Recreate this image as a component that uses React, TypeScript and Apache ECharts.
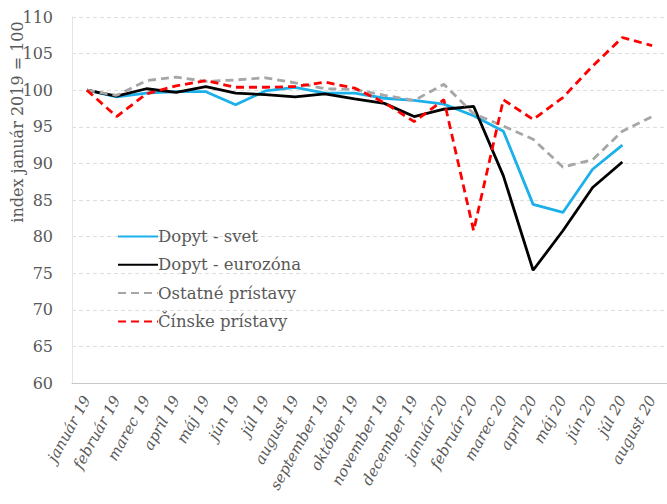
import React, { useEffect, useRef } from "react";
import * as echarts from "echarts";

const categories = [
  "január 19", "február 19", "marec 19", "apríl 19", "máj 19", "jún 19", "júl 19",
  "august 19", "september 19", "október 19", "november 19", "december 19",
  "január 20", "február 20", "marec 20", "apríl 20", "máj 20", "jún 20", "júl 20", "august 20",
];

const dopytSvet = [100, 99.1, 99.6, 99.8, 99.8, 98.0, 99.9, 100.4, 99.6, 99.6, 98.9, 98.6, 98.1, 96.5, 94.4, 84.4, 83.3, 89.2, 92.5, null];
const dopytEuro = [100, 99.2, 100.2, 99.7, 100.5, 99.6, 99.4, 99.1, 99.5, 98.8, 98.2, 96.4, 97.4, 97.8, 88.3, 75.4, 80.8, 86.7, 90.2, null];
const ostatne = [100, 99.3, 101.3, 101.8, 101.2, 101.4, 101.7, 101.0, 100.2, 100.1, 99.3, 98.6, 100.8, 96.8, 95.1, 93.3, 89.5, 90.5, 94.4, 96.4];
const cinske = [100, 96.4, 99.5, 100.6, 101.3, 100.4, 100.4, 100.5, 101.1, 100.3, 98.3, 95.7, 98.7, 80.8, 98.7, 96.0, 99.0, 103.3, 107.2, 106.1];

const yMin = 60;
const yMax = 110;
const yStep = 5;

const FONT = "'DejaVu Serif', 'Liberation Serif', serif";
const GRAY = "#595959";

export default function App() {
  const ref = useRef<HTMLDivElement>(null);
  useEffect(() => {
    if (!ref.current) return;
    const chart = echarts.init(ref.current, undefined, { renderer: "svg" });
    const line = (name: string, data: (number | null)[], color: string, dashed: boolean) => ({
      name,
      type: "line",
      data,
      symbol: "none",
      connectNulls: false,
      lineStyle: { color, width: 2.8, type: dashed ? [8, 5] : "solid" },
      itemStyle: { color },
      z: dashed ? 3 : 2,
    });
    chart.setOption({
      animation: false,
      backgroundColor: "#ffffff",
      textStyle: { fontFamily: FONT },
      grid: { left: 72, top: 17, width: 604, bottom: 121, containLabel: false },
      legend: {
        orient: "vertical",
        left: 112,
        top: 223,
        itemWidth: 40,
        itemHeight: 16,
        itemGap: 11.3,
        itemStyle: { opacity: 0 },
        textStyle: { fontFamily: FONT, fontSize: 16.5, lineHeight: 16, color: GRAY, padding: [0, 0, 0, -5] },
        data: ["Dopyt - svet", "Dopyt - eurozóna", "Ostatné prístavy", "Čínske prístavy"],
      },
      xAxis: {
        type: "category",
        data: categories,
        boundaryGap: true,
        axisLine: { show: true, lineStyle: { color: "#c8c8c8", width: 1 } },
        axisTick: { show: false },
        axisLabel: {
          interval: 0,
          rotate: 61,
          fontFamily: FONT,
          fontStyle: "italic",
          fontSize: 15,
          color: GRAY,
          margin: 14,
        },
      },
      yAxis: {
        type: "value",
        min: yMin,
        max: yMax,
        interval: yStep,
        axisLine: { show: true, lineStyle: { color: "#e4e4e4", width: 1 } },
        axisTick: { show: false },
        axisLabel: { fontFamily: FONT, fontSize: 16, color: GRAY, margin: 19 },
        splitLine: { show: true, lineStyle: { color: "#dedede", type: [4, 3], width: 1 } },
      },
      graphic: [
        {
          type: "text",
          x: 17,
          y: 122,
          rotation: Math.PI / 2,
          style: {
            text: "index január 2019 = 100",
            fontFamily: FONT,
            fontSize: 16,
            fill: GRAY,
            align: "center",
            verticalAlign: "middle",
          },
        },
      ],
      series: [
        line("Dopyt - svet", dopytSvet, "#1cb0eb", false),
        line("Dopyt - eurozóna", dopytEuro, "#000000", false),
        line("Ostatné prístavy", ostatne, "#a6a6a6", true),
        line("Čínske prístavy", cinske, "#ff0000", true),
      ],
    });
    return () => chart.dispose();
  }, []);
  return <div ref={ref} style={{ width: 667, height: 504, position: "absolute", left: 0, top: 0 }} />;
}
